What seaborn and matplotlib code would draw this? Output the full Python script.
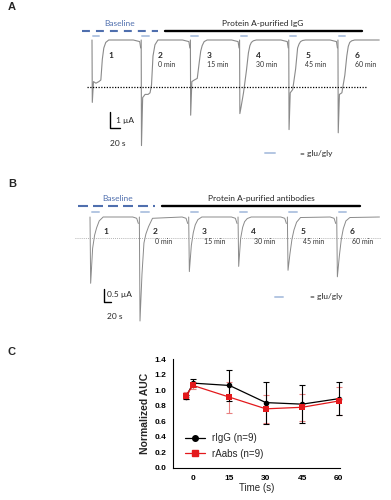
import numpy as np
import pandas as pd
import matplotlib
matplotlib.use("Agg")
import matplotlib.pyplot as plt
from matplotlib.lines import Line2D
import seaborn as sns

# ---- data ----
# panel A: sweep onsets (s) and sweep shape keypoints (s after onset, uA)
onsets_a = [0, 100, 200, 300, 400, 500]
t_a = [0, 0.6, 3, 8, 14, 18, 21, 24, 28, 34, 84, 97, 99]
sweep_a1 = [0, -3.9, -2.6, -2.7, -2.6, -2.5, -1.2, -0.5, -0.15, 0, 0, -0.1, -0.5]
sweep_a2 = [0, -6.6, -3.6, -3.4, -3.4, -3.3, -2.8, -1.0, -0.3, 0, 0, -0.1, -0.5]
sweep_a3 = [0, -4.7, -2.6, -2.5, -2.4, -1.4, -0.7, -0.35, -0.1, 0, 0, -0.1, -0.5]
sweep_a4 = [0, -4.6, -4.2, -3.3, -1.9, -0.8, -0.35, -0.15, -0.05, 0, 0, -0.1, -0.5]
sweep_a5 = [0, -5.6, -3.3, -3.1, -1.8, -0.5, -0.25, -0.1, -0.03, 0, 0, -0.1, -0.5]
sweep_a6 = [0, -5.8, -3.4, -3.3, -2.2, -1.0, -0.4, -0.15, -0.05, 0, 0, np.nan, np.nan]
sweeps_a = [sweep_a1, sweep_a2, sweep_a3, sweep_a4, sweep_a5, sweep_a6]

# panel B
onsets_b = [0, 150, 300, 450, 600, 750]
t_b = [0, 2, 8, 14, 20, 28, 40, 130, 142, 147]
sweep_b1 = [0, -2.55, -1.2, -0.7, -0.42, -0.15, 0, 0, -0.05, -0.25]
sweep_b2 = [0, -4.0, -2.2, -1.0, -0.65, -0.37, -0.05, 0, -0.05, -0.25]
sweep_b3 = [0, -2.1, -1.1, -0.6, -0.3, -0.1, 0, 0, -0.05, -0.25]
sweep_b4 = [0, -1.9, -0.82, -0.4, -0.18, -0.06, 0, 0, -0.05, -0.25]
sweep_b5 = [0, -2.05, -1.4, -0.85, -0.5, -0.2, -0.02, 0, -0.05, -0.25]
sweep_b6 = [0, -2.3, -1.5, -0.85, -0.45, -0.15, -0.02, 0, np.nan, np.nan]
sweeps_b = [sweep_b1, sweep_b2, sweep_b3, sweep_b4, sweep_b5, sweep_b6]

sweep_nums = ["1", "2", "3", "4", "5", "6"]
sweep_times = ["", "0 min", "15 min", "30 min", "45 min", "60 min"]

# panel C
time_c = [-3, 0, 15, 30, 45, 60]
rigg_mean = [0.91, 1.09, 1.06, 0.84, 0.82, 0.89]
rigg_err = [0.03, 0.05, 0.20, 0.27, 0.24, 0.21]
raabs_mean = [0.93, 1.06, 0.91, 0.76, 0.78, 0.86]
raabs_err = [0.04, 0.05, 0.20, 0.18, 0.17, 0.18]

# ---- styling ----
sns.set_style("white")
plt.rcParams['font.family'] = ['Lato', 'DejaVu Sans']

W, H = 391, 500
TRACE = "#8a8a8a"
BLUE = "#4f6fae"
GLU = "#b3c6e2"
ARIAL = ["Liberation Sans", "DejaVu Sans"]

fig = plt.figure(figsize=(W / 100, H / 100), dpi=100)


def trace_axes(box, origin, s_per_px, px_per_ua):
    # axes placed in pixel box, with time (s) / current (uA) scales
    x0, y0, x1, y1 = box
    ax = fig.add_axes([x0 / W, 1 - y1 / H, (x1 - x0) / W, (y1 - y0) / H])
    ox, oy = origin
    ax.set_xlim((x0 - ox) * s_per_px, (x1 - ox) * s_per_px)
    ax.set_ylim((oy - y1) / px_per_ua, (oy - y0) / px_per_ua)
    ax.axis("off")
    return ax


def draw_traces(ax, onsets, t_rel, sweeps, lw):
    for onset, cur in zip(onsets, sweeps):
        ax.plot(onset + np.array(t_rel), cur, color=TRACE, lw=lw, solid_joinstyle="round")


# ---------- panel A ----------
ax_a = trace_axes((60, 10, 385, 165), (92, 40), 2.033, 16)
draw_traces(ax_a, onsets_a, t_a, sweeps_a, 0.8)

ax_a.text(56, 1.06, "Baseline", color=BLUE, fontsize=6, ha="center", va="center")
ax_a.text(347, 1.06, "Protein A-purified IgG", fontsize=6, ha="center", va="center")
ax_a.plot([-20, 134], [0.56, 0.56], color=BLUE, lw=1.5, dashes=(3.8, 2.9))
ax_a.plot([148, 549], [0.56, 0.56], color="black", lw=1.7)
for onset in onsets_a:
    ax_a.plot([onset + 2, onset + 15], [0.25, 0.25], color=GLU, lw=1.4)
ax_a.plot([-10, 557], [-2.94, -2.94], color="black", lw=0.9, ls=(0, (1, 1.2)))
for onset, num, tm in zip(onsets_a, sweep_nums, sweep_times):
    ax_a.text(onset + 34, -1.0, num, fontsize=6, fontweight="bold", va="center")
    ax_a.text(onset + 34, -1.56, tm, fontsize=5, va="center", color="#333333")
ax_a.plot([36.6, 36.6, 56.6], [-4.5, -5.5, -5.5], color="black", lw=1)
ax_a.text(49, -5.06, "1 \u00b5A", fontsize=6, va="center")
ax_a.text(36.6, -6.44, "20 s", fontsize=6, va="center")
ax_a.plot([352, 372], [-7.08, -7.08], color=GLU, lw=1.4)
ax_a.text(423, -7.08, "= glu/gly", fontsize=6, va="center")

# ---------- panel B ----------
ax_b = trace_axes((60, 185, 385, 330), (90, 217), 3.04, 26)
draw_traces(ax_b, onsets_b, t_b, sweeps_b, 0.7)

ax_b.text(84, 0.72, "Baseline", color=BLUE, fontsize=6, ha="center", va="center")
ax_b.text(522, 0.72, "Protein A-purified antibodies", fontsize=6, ha="center", va="center")
ax_b.plot([-37, 198], [0.43, 0.43], color=BLUE, lw=1.5, dashes=(4.8, 2.4))
ax_b.plot([219, 821], [0.43, 0.43], color="black", lw=1.7)
for onset in onsets_b:
    ax_b.plot([onset + 6, onset + 28], [0.2, 0.2], color=GLU, lw=1.4)
ax_b.plot([-46, 882], [-0.82, -0.82], color="#9a9a9a", lw=0.6, ls=(0, (1, 1.5)))
for onset, num, tm in zip(onsets_b, sweep_nums, sweep_times):
    ax_b.text(onset + 40, -0.56, num, fontsize=6, fontweight="bold", va="center")
    ax_b.text(onset + 48, -0.96, tm, fontsize=5, va="center", color="#333333")
ax_b.plot([42.6, 42.6, 62.6], [-2.77, -3.27, -3.27], color="black", lw=1)
ax_b.text(51.7, -3.0, "0.5 \u00b5A", fontsize=6, va="center")
ax_b.text(51.7, -3.83, "20 s", fontsize=6, va="center")
ax_b.plot([562, 586], [-3.06, -3.06], color=GLU, lw=1.4)
ax_b.text(669, -3.06, "= glu/gly", fontsize=6, va="center")

# ---------- panel C ----------
ax_c = fig.add_axes([173 / W, 1 - 468 / H, 167 / W, 109 / H])
df = pd.DataFrame({
    "time": time_c * 2,
    "auc": rigg_mean + raabs_mean,
    "group": ["rIgG (n=9)"] * len(time_c) + ["rAabs (n=9)"] * len(time_c),
})
colors = {"rIgG (n=9)": "black", "rAabs (n=9)": "#e3191c"}

ax_c.errorbar(time_c, raabs_mean, yerr=raabs_err, fmt="none", ecolor="#e88080",
              elinewidth=0.8, capsize=2.5, capthick=0.8, clip_on=False, zorder=2)
ax_c.errorbar(time_c, rigg_mean, yerr=rigg_err, fmt="none", ecolor="black",
              elinewidth=0.8, capsize=2.5, capthick=0.8, clip_on=False, zorder=3)
sns.lineplot(data=df, x="time", y="auc", hue="group", style="group",
             markers={"rIgG (n=9)": "o", "rAabs (n=9)": "s"}, dashes=False,
             palette=colors, markersize=4, markeredgewidth=0, lw=0.9,
             legend=False, ax=ax_c, clip_on=False, zorder=4)

ax_c.set_xlim(-8.3, 60.6)
ax_c.set_ylim(0, 1.4)
ax_c.set_xticks([0, 15, 30, 45, 60])
ax_c.set_yticks(np.arange(0, 1.41, 0.2))
ax_c.set_yticklabels([f"{v:.1f}" for v in np.arange(0, 1.41, 0.2)])
sns.despine(ax=ax_c)
for s in ["left", "bottom"]:
    ax_c.spines[s].set_linewidth(0.8)
    ax_c.spines[s].set_color("black")
ax_c.tick_params(direction="out", length=3.5, width=0.8, labelsize=6, pad=1.5,
                 colors="black")
for lab in ax_c.get_xticklabels() + ax_c.get_yticklabels():
    lab.set_family(ARIAL)
    lab.set_fontweight("bold")
ax_c.set_xlabel("Time (s)", fontsize=7, family=ARIAL, labelpad=1)
ax_c.set_ylabel("Normalized AUC", fontsize=7.5, family=ARIAL,
                fontweight="bold", labelpad=3)

handles = [Line2D([], [], color="black", marker="o", markersize=4, lw=0.9),
           Line2D([], [], color="#e3191c", marker="s", markersize=4, lw=0.9)]
ax_c.legend(handles, ["rIgG (n=9)", "rAabs (n=9)"], loc="lower left",
            bbox_to_anchor=(0.05, 0.05), frameon=False,
            prop={"family": ARIAL, "size": 7},
            handlelength=2.0, handletextpad=0.8, labelspacing=0.55,
            borderaxespad=0)

# panel letters
for letter, py in [("A", 7), ("B", 184), ("C", 352)]:
    fig.text(12 / W, 1 - py / H, letter, fontsize=8, fontweight="bold",
             ha="center", va="center", family=ARIAL)

fig.savefig("out.png", dpi=100)
